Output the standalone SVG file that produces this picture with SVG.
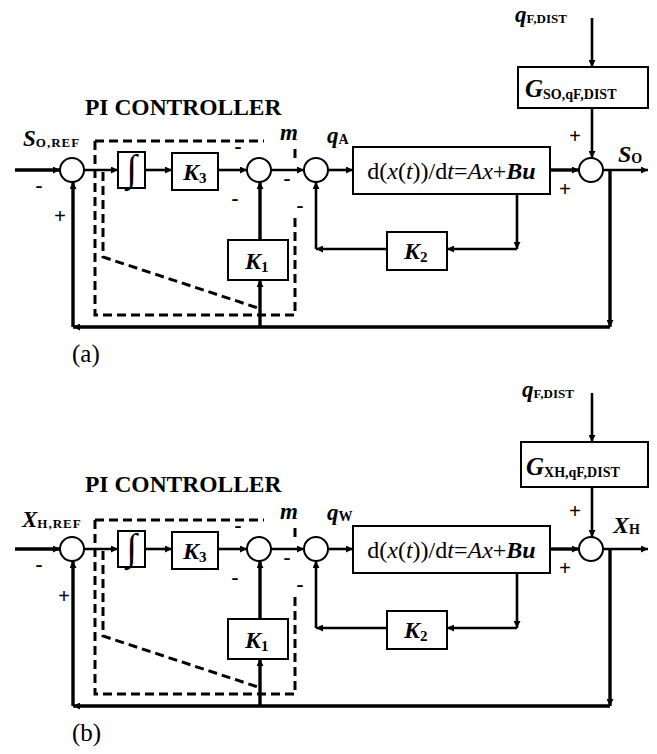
<svg xmlns="http://www.w3.org/2000/svg" width="657" height="754" viewBox="0 0 657 754" font-family="'Liberation Serif', 'DejaVu Serif', serif">
<style>
text, tspan{font-family:'Liberation Serif','DejaVu Serif','Times New Roman',serif;fill:#000}
.it{font-style:italic;font-weight:bold}
.sub{font-style:normal;font-weight:bold}
.title{font-weight:bold;font-size:23.5px}
.sgn{font-weight:bold;font-size:21px;text-anchor:middle}
.int{font-size:38px;text-anchor:middle}
.box{fill:#fff;stroke:#000;stroke-width:2}
.sum{fill:#fff;stroke:#000;stroke-width:2}
.w{fill:none;stroke:#000;stroke-width:2.6}
.wt{fill:none;stroke:#000;stroke-width:3.4}
.dash{fill:none;stroke:#000;stroke-width:3;stroke-dasharray:9 5}
.cap{font-size:25px}
</style>
<defs>
<marker id="ah" viewBox="0 0 10 10" refX="10" refY="5" markerWidth="9" markerHeight="7" markerUnits="userSpaceOnUse" orient="auto"><path d="M0,0 L10,5 L0,10 z" fill="#000"/></marker>
</defs>

<!-- ===================== (a) ===================== -->
<g id="diagram-a">
  <g id="a-controller-frame">
    <text class="title" x="85" y="115">PI CONTROLLER</text>
    <path class="dash" d="M95,141 H264 M95,141 V315 H295 V213 M295,149 V158"/>
    <path class="dash" d="M103,172 V257 L258,308"/>
  </g>
  <g id="a-connectors">
    <path class="wt" d="M15,170 H60" marker-end="url(#ah)"/>
    <path class="w" d="M84,170 H118" marker-end="url(#ah)"/>
    <path class="w" d="M145,170 H172" marker-end="url(#ah)"/>
    <path class="w" d="M218,170 H247" marker-end="url(#ah)"/>
    <path class="w" d="M271,170 H304" marker-end="url(#ah)"/>
    <path class="w" d="M328,170 H353" marker-end="url(#ah)"/>
    <path class="wt" d="M550,170 H579" marker-end="url(#ah)"/>
    <path class="w" d="M603,170 H648" marker-end="url(#ah)"/>
    <path class="w" d="M592,18 V67" marker-end="url(#ah)"/>
    <path class="w" d="M592,108 V158" marker-end="url(#ah)"/>
    <path class="wt" d="M610,170 V327" marker-end="url(#ah)"/>
    <path class="wt" d="M610,327 H73" marker-end="url(#ah)"/>
    <path class="wt" d="M73,327 V182" marker-end="url(#ah)"/>
    <path class="wt" d="M260,327 V280" marker-end="url(#ah)"/>
    <path class="wt" d="M260,240 V182" marker-end="url(#ah)"/>
    <path class="w" d="M517,193 V249" marker-end="url(#ah)"/>
    <path class="w" d="M517,249 H447" marker-end="url(#ah)"/>
    <path class="w" d="M387,249 H316" marker-end="url(#ah)"/>
    <path class="w" d="M316,249 V182" marker-end="url(#ah)"/>
  </g>
  <g id="a-sum1"><circle class="sum" cx="72" cy="170" r="12"/></g>
  <g id="a-integrator"><rect class="box" x="118" y="152" width="27" height="36"/><text class="int" x="131.5" y="181">∫</text></g>
  <g id="a-k3"><rect class="box" x="172" y="153" width="46" height="37"/><text x="183" y="180" font-size="24"><tspan class="it">K</tspan><tspan class="sub" font-size="15" dy="3">3</tspan></text></g>
  <g id="a-sum2"><circle class="sum" cx="259" cy="170" r="12"/></g>
  <g id="a-k1"><rect class="box" x="228" y="240" width="60" height="40"/><text x="245" y="269" font-size="24"><tspan class="it">K</tspan><tspan class="sub" font-size="15" dy="3">1</tspan></text></g>
  <g id="a-sum3"><circle class="sum" cx="316" cy="170" r="12"/></g>
  <g id="a-plant"><rect class="box" x="353" y="147" width="197" height="47"/><text x="451.5" y="179" font-size="24" text-anchor="middle">d(<tspan font-style="italic">x</tspan>(<tspan font-style="italic">t</tspan>))/d<tspan font-style="italic">t</tspan>=<tspan font-style="italic">Ax</tspan>+<tspan font-style="italic" font-weight="bold">Bu</tspan></text></g>
  <g id="a-k2"><rect class="box" x="387" y="232" width="60" height="38"/><text x="404" y="259" font-size="24"><tspan class="it">K</tspan><tspan class="sub" font-size="15" dy="3">2</tspan></text></g>
  <g id="a-sum4"><circle class="sum" cx="591" cy="170" r="12"/></g>
  <g id="a-gdist"><rect class="box" x="518" y="67" width="130" height="41"/><text x="525" y="97" font-size="25"><tspan class="it">G</tspan><tspan class="sub" font-size="14" dy="2">SO,qF,DIST</tspan></text></g>
  <g id="a-labels">
    <text x="23" y="146" font-size="23"><tspan class="it">S</tspan><tspan class="sub" font-size="13" dy="1" letter-spacing="1">O,REF</tspan></text>
    <text class="it" x="280" y="140" font-size="23">m</text>
    <text x="327" y="143" font-size="23"><tspan class="it">q</tspan><tspan class="sub" font-size="14" dy="1">A</tspan></text>
    <text x="515" y="22" font-size="23"><tspan class="it">q</tspan><tspan class="sub" font-size="13" dy="1">F,DIST</tspan></text>
    <text x="618" y="162" font-size="24"><tspan class="it">S</tspan><tspan class="sub" font-size="14" dy="1">O</tspan></text>
    <text class="sgn" x="39" y="192">-</text>
    <text class="sgn" x="60" y="223">+</text>
    <text class="sgn" x="238" y="153">-</text>
    <text class="sgn" x="235" y="205">-</text>
    <text class="sgn" x="287" y="185">-</text>
    <text class="sgn" x="300" y="212">-</text>
    <text class="sgn" x="575" y="143">+</text>
    <text class="sgn" x="565" y="196">+</text>
    <text class="cap" x="72" y="362">(a)</text>
  </g>
</g>

<!-- ===================== (b) ===================== -->
<g id="diagram-b" transform="translate(0,379)">
  <g id="b-controller-frame">
    <text class="title" x="85" y="113">PI CONTROLLER</text>
    <path class="dash" d="M95,141 H264 M95,141 V315 H295 V213 M295,149 V158"/>
    <path class="dash" d="M103,172 V257 L258,308"/>
  </g>
  <g id="b-connectors">
    <path class="wt" d="M15,170 H60" marker-end="url(#ah)"/>
    <path class="w" d="M84,170 H118" marker-end="url(#ah)"/>
    <path class="w" d="M145,170 H172" marker-end="url(#ah)"/>
    <path class="w" d="M218,170 H247" marker-end="url(#ah)"/>
    <path class="w" d="M271,170 H304" marker-end="url(#ah)"/>
    <path class="w" d="M328,170 H353" marker-end="url(#ah)"/>
    <path class="wt" d="M550,170 H579" marker-end="url(#ah)"/>
    <path class="w" d="M603,170 H648" marker-end="url(#ah)"/>
    <path class="w" d="M592,14 V63" marker-end="url(#ah)"/>
    <path class="w" d="M592,108 V158" marker-end="url(#ah)"/>
    <path class="wt" d="M610,170 V327" marker-end="url(#ah)"/>
    <path class="wt" d="M610,327 H73" marker-end="url(#ah)"/>
    <path class="wt" d="M73,327 V182" marker-end="url(#ah)"/>
    <path class="wt" d="M260,327 V280" marker-end="url(#ah)"/>
    <path class="wt" d="M260,240 V182" marker-end="url(#ah)"/>
    <path class="w" d="M517,193 V249" marker-end="url(#ah)"/>
    <path class="w" d="M517,249 H447" marker-end="url(#ah)"/>
    <path class="w" d="M387,249 H316" marker-end="url(#ah)"/>
    <path class="w" d="M316,249 V182" marker-end="url(#ah)"/>
  </g>
  <g id="b-sum1"><circle class="sum" cx="72" cy="170" r="12"/></g>
  <g id="b-integrator"><rect class="box" x="118" y="152" width="27" height="36"/><text class="int" x="131.5" y="181">∫</text></g>
  <g id="b-k3"><rect class="box" x="172" y="153" width="46" height="37"/><text x="183" y="180" font-size="24"><tspan class="it">K</tspan><tspan class="sub" font-size="15" dy="3">3</tspan></text></g>
  <g id="b-sum2"><circle class="sum" cx="259" cy="170" r="12"/></g>
  <g id="b-k1"><rect class="box" x="228" y="240" width="60" height="40"/><text x="245" y="269" font-size="24"><tspan class="it">K</tspan><tspan class="sub" font-size="15" dy="3">1</tspan></text></g>
  <g id="b-sum3"><circle class="sum" cx="316" cy="170" r="12"/></g>
  <g id="b-plant"><rect class="box" x="353" y="147" width="197" height="47"/><text x="451.5" y="179" font-size="24" text-anchor="middle">d(<tspan font-style="italic">x</tspan>(<tspan font-style="italic">t</tspan>))/d<tspan font-style="italic">t</tspan>=<tspan font-style="italic">Ax</tspan>+<tspan font-style="italic" font-weight="bold">Bu</tspan></text></g>
  <g id="b-k2"><rect class="box" x="387" y="232" width="60" height="38"/><text x="404" y="259" font-size="24"><tspan class="it">K</tspan><tspan class="sub" font-size="15" dy="3">2</tspan></text></g>
  <g id="b-sum4"><circle class="sum" cx="591" cy="170" r="12"/></g>
  <g id="b-gdist"><rect class="box" x="521" y="63" width="127" height="45"/><text x="526" y="96" font-size="25"><tspan class="it">G</tspan><tspan class="sub" font-size="14" dy="2">XH,qF,DIST</tspan></text></g>
  <g id="b-labels">
    <text x="22" y="148" font-size="23"><tspan class="it">X</tspan><tspan class="sub" font-size="13" dy="1" letter-spacing="1">H,REF</tspan></text>
    <text class="it" x="280" y="140" font-size="23">m</text>
    <text x="327" y="141" font-size="23"><tspan class="it">q</tspan><tspan class="sub" font-size="14" dy="1">W</tspan></text>
    <text x="522" y="18" font-size="23"><tspan class="it">q</tspan><tspan class="sub" font-size="13" dy="1">F,DIST</tspan></text>
    <text x="613" y="154" font-size="24"><tspan class="it">X</tspan><tspan class="sub" font-size="14" dy="1">H</tspan></text>
    <text class="sgn" x="39" y="192">-</text>
    <text class="sgn" x="64" y="224">+</text>
    <text class="sgn" x="238" y="153">-</text>
    <text class="sgn" x="235" y="205">-</text>
    <text class="sgn" x="287" y="185">-</text>
    <text class="sgn" x="300" y="212">-</text>
    <text class="sgn" x="575" y="139">+</text>
    <text class="sgn" x="565" y="196">+</text>
    <text class="cap" x="72" y="362">(b)</text>
  </g>
</g>
</svg>
